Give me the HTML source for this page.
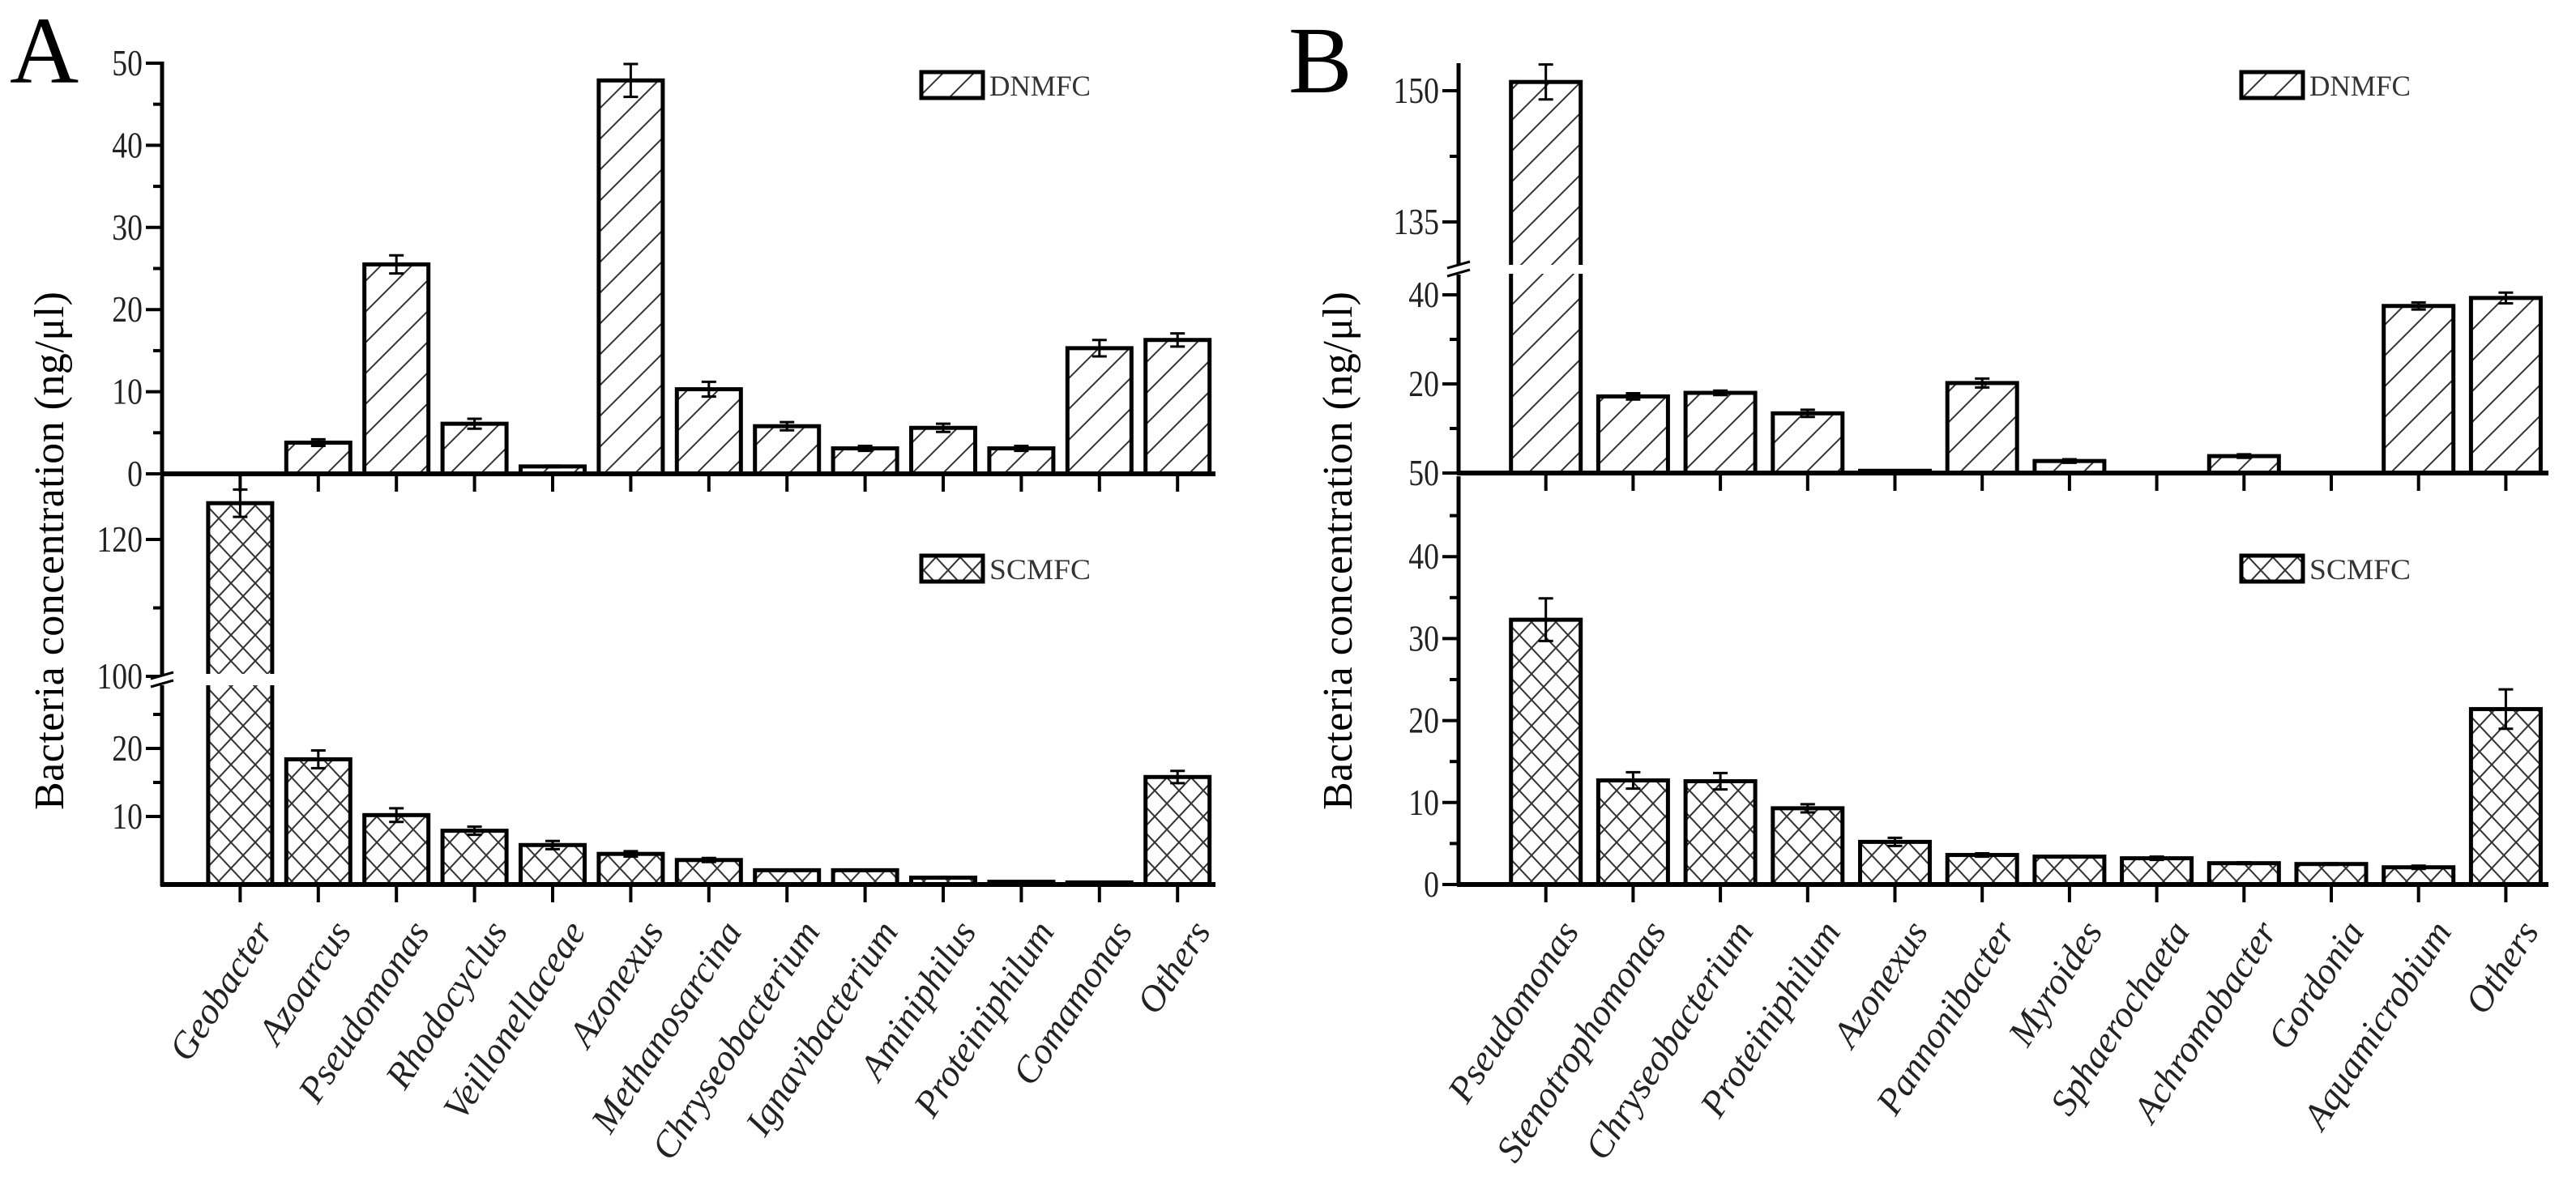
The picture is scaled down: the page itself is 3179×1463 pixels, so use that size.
<!DOCTYPE html>
<html><head><meta charset="utf-8">
<style>
html,body{margin:0;padding:0;background:#fff;}
svg{display:block;font-family:"Liberation Serif",serif;}
</style></head>
<body>
<svg id="fig" width="3179" height="1463" viewBox="0 0 3179 1463" xmlns="http://www.w3.org/2000/svg">
<defs>
<pattern id="hatch" patternUnits="userSpaceOnUse" width="38" height="38">
<path d="M-10,48 L48,-10 M-10,10 L10,-10 M28,48 L48,28" stroke="#333" stroke-width="2" fill="none"/>
</pattern>
<pattern id="cross" patternUnits="userSpaceOnUse" width="30" height="32">
<path d="M0,0 L30,32 M30,0 L0,32" stroke="#333" stroke-width="2" fill="none"/>
</pattern>
</defs>
<text x="12" y="102" font-size="118">A</text>
<text x="1590" y="114" font-size="118">B</text>
<text transform="translate(78,680) rotate(-90)" text-anchor="middle" font-size="52" textLength="640" lengthAdjust="spacing">Bacteria concentration (ng/μl)</text>
<text transform="translate(1668,680) rotate(-90)" text-anchor="middle" font-size="52" textLength="640" lengthAdjust="spacing">Bacteria concentration (ng/μl)</text>
<g id="plots"></g>
</svg>
<script>
// Panel A data
const catsA = ["Geobacter","Azoarcus","Pseudomonas","Rhodocyclus","Veillonellaceae","Azonexus","Methanosarcina","Chryseobacterium","Ignavibacterium","Aminiphilus","Proteiniphilum","Comamonas","Others"];
const dnA = [0, 3.8, 25.5, 6.1, 0.9, 47.9, 10.3, 5.8, 3.1, 5.6, 3.1, 15.3, 16.3];
const dnAErr = [0, 0.4, 1.1, 0.6, 0.1, 2.0, 0.9, 0.5, 0.3, 0.5, 0.3, 1.0, 0.8];
const scA = [125.3, 18.4, 10.2, 7.9, 5.8, 4.5, 3.6, 2.1, 2.1, 1.0, 0.4, 0.3, 15.8];
const scAErr = [2.0, 1.3, 1.0, 0.6, 0.6, 0.4, 0.3, 0.1, 0.1, 0.1, 0.05, 0.05, 0.9];
const ticksATop = [0, 10, 20, 30, 40, 50];
const ticksALow = [10, 20, 100, 120];
// Panel B data
const catsB = ["Pseudomonas","Stenotrophomonas","Chryseobacterium","Proteiniphilum","Azonexus","Pannonibacter","Myroides","Sphaerochaeta","Achromobacter","Gordonia","Aquamicrobium","Others"];
const dnB = [151, 17.2, 18.0, 13.4, 0.5, 20.2, 2.7, 0, 3.8, 0, 37.5, 39.3];
const dnBErr = [2.0, 0.7, 0.5, 0.8, 0.1, 1.0, 0.4, 0, 0.4, 0, 0.8, 1.2];
const scB = [32.3, 12.7, 12.6, 9.3, 5.2, 3.6, 3.4, 3.2, 2.6, 2.5, 2.1, 21.4];
const scBErr = [2.6, 1.0, 1.0, 0.5, 0.5, 0.2, 0.1, 0.2, 0.1, 0.1, 0.2, 2.4];
const ticksBTop = [0, 20, 40, 135, 150];
const tickLabelsBTop = ["50", "20", "40", "135", "150"];
const ticksBLow = [0, 10, 20, 30, 40];

const NS = "http://www.w3.org/2000/svg";
const root = document.getElementById("plots");
function el(tag, attrs, parent) {
  const e = document.createElementNS(NS, tag);
  for (const k in attrs) e.setAttribute(k, attrs[k]);
  (parent || root).appendChild(e);
  return e;
}
// scales
const yATop = v => 585 - v * 10.14;
const yALow = v => v <= 40 ? 1092 - v * 8.4 : 835 - (v - 100) * 8.45;
const yBTop = v => v <= 60 ? 584 - v * 5.5 : 112 + (150 - v) * 10.8;
const yBLow = v => 1092 - v * 10.12;
const xA = i => 200 + (i + 1) * 96.4;
const xB = i => 1800 + (i + 1) * 107.7;

function drawAxis(name, x0, x1, yTop, yBase, ys, majors, labels, minors, breakY) {
  const g = el("g", {});
  
  
  el("line", {x1: x0, y1: yTop, x2: x0, y2: yBase + 2, stroke: "#000", "stroke-width": 5}, g);
  el("line", {x1: x0 - 2, y1: yBase, x2: x1, y2: yBase, stroke: "#000", "stroke-width": 6}, g);
  majors.forEach((v, i) => {
    const y = ys(v);
    el("line", {x1: x0 - 20, y1: y, x2: x0, y2: y, stroke: "#000", "stroke-width": 4}, g);
    const t = el("text", {transform: `translate(${x0 - 24},${y + 15}) scale(0.82,1)`, "text-anchor": "end", "font-size": 46, fill: "#222"}, g);
    
    
    t.textContent = labels[i];
  });
  minors.forEach(v => {
    const y = ys(v);
    el("line", {x1: x0 - 11, y1: y, x2: x0, y2: y, stroke: "#000", "stroke-width": 4}, g);
  });
  if (breakY) {
    el("rect", {x: x0 - 6, y: breakY - 6, width: 12, height: 12, fill: "#fff"}, g);
    el("path", {d: `M${x0-14},${breakY-2} L${x0+14},${breakY-10} M${x0-14},${breakY+8} L${x0+14},${breakY}`, stroke: "#000", "stroke-width": 3}, g);
  }
  return g;
}

function drawBars(name, cats, xs, vals, errs, ys, baseY, bw, fill, gap) {
  const g = el("g", {});
  
  
  cats.forEach((c, i) => {
    const cx = xs(i), top = ys(vals[i]);
    const r = el("rect", {x: cx - bw / 2, y: top, width: bw, height: Math.max(0, baseY - top), fill: fill, stroke: "#000", "stroke-width": 5}, g);
    
    
    if (gap && top < gap[0]) {
      el("rect", {x: cx - bw / 2 - 4, y: gap[0], width: bw + 8, height: gap[1] - gap[0], fill: "#fff"}, g);
    }
    if (errs[i] > 0) {
      const y1 = ys(vals[i] + errs[i]), y2 = ys(vals[i] - errs[i]);
      const e = el("path", {d: `M${cx},${y1} L${cx},${y2} M${cx-9},${y1} L${cx+9},${y1} M${cx-9},${y2} L${cx+9},${y2}`, stroke: "#000", "stroke-width": 3, fill: "none"}, g);
      
      
    }
  });
}

function drawXTicks(xs, n, baseY) {
  for (let i = 0; i < n; i++) {
    el("line", {x1: xs(i), y1: baseY, x2: xs(i), y2: baseY + 22, stroke: "#000", "stroke-width": 4});
  }
}

function drawXLabels(name, cats, xs) {
  const g = el("g", {});
  
  
  cats.forEach((c, i) => {
    const x = xs(i) + 42, y = 1150;
    const t = el("text", {transform: `translate(${x},${y}) rotate(-57)`, "text-anchor": "end", "font-size": 46, "font-style": "italic", fill: "#222"}, g);
    
    
    t.textContent = c;
  });
}

function legend(name, x, y, fill, label) {
  const g = el("g", {});
  
  
  el("rect", {x: x, y: y, width: 76, height: 32, fill: fill, stroke: "#000", "stroke-width": 5}, g);
  const t = el("text", {x: x + 84, y: y + 29, "font-size": 36, textLength: 125, lengthAdjust: "spacingAndGlyphs", fill: "#333"}, g);
  t.textContent = label;
}

// Panel A top
drawBars("dnmfc-bars-a", catsA, xA, dnA, dnAErr, yATop, 585, 79, "url(#hatch)", null);
drawXTicks(xA, catsA.length, 585);
drawAxis("y-axis-a-top", 200, 1500, 76, 585, yATop, ticksATop, ticksATop.map(String), [5, 15, 25, 35, 45], null);
legend("legend-dnmfc-a", 1137, 89, "url(#hatch)", "DNMFC");
// Panel A bottom
drawBars("scmfc-bars-a", catsA, xA, scA, scAErr, yALow, 1092, 79, "url(#cross)", [832, 846]);
drawXTicks(xA, catsA.length, 1092);
drawAxis("y-axis-a-bottom", 200, 1500, 588, 1092, yALow, ticksALow, ticksALow.map(String), [15, 25, 110], 840);
legend("legend-scmfc-a", 1137, 686, "url(#cross)", "SCMFC");
drawXLabels("x-labels-a", catsA, xA);

// Panel B top
drawBars("dnmfc-bars-b", catsB, xB, dnB, dnBErr, yBTop, 584, 86, "url(#hatch)", [327, 338]);
drawXTicks(xB, catsB.length, 584);
drawAxis("y-axis-b-top", 1800, 3145, 78, 584, yBTop, ticksBTop, tickLabelsBTop, [10, 30, 142.5], 333);
legend("legend-dnmfc-b", 2766, 89, "url(#hatch)", "DNMFC");
// Panel B bottom
drawBars("scmfc-bars-b", catsB, xB, scB, scBErr, yBLow, 1092, 86, "url(#cross)", null);
drawXTicks(xB, catsB.length, 1092);
drawAxis("y-axis-b-bottom", 1800, 3145, 588, 1092, yBLow, ticksBLow, ticksBLow.map(String), [5, 15, 25, 35, 45], null);
legend("legend-scmfc-b", 2766, 686, "url(#cross)", "SCMFC");
drawXLabels("x-labels-b", catsB, xB);
</script>
</body></html>
